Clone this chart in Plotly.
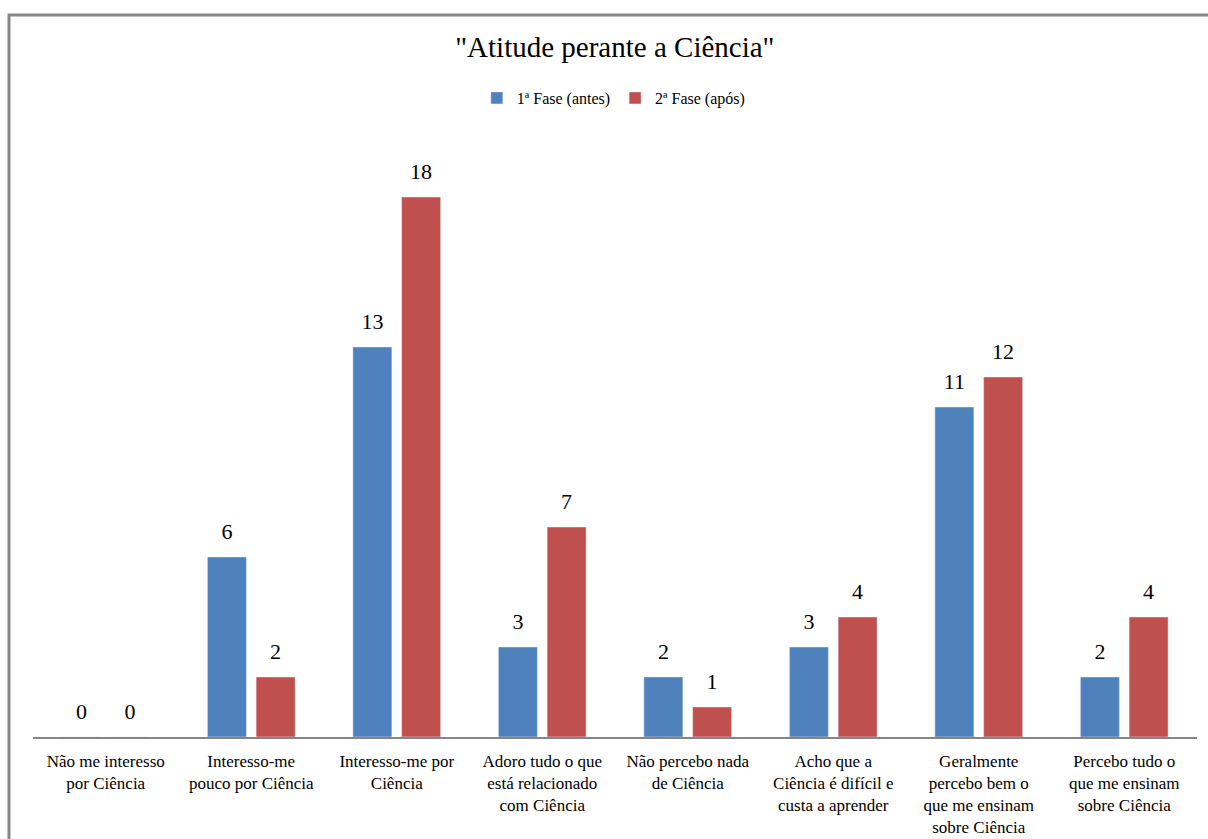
import plotly.graph_objects as go

categories = [
    "Não me interesso<br>por Ciência",
    "Interesso-me<br>pouco por Ciência",
    "Interesso-me por<br>Ciência",
    "Adoro tudo o que<br>está relacionado<br>com Ciência",
    "Não percebo nada<br>de Ciência",
    "Acho que a<br>Ciência é difícil e<br>custa a aprender",
    "Geralmente<br>percebo bem o<br>que me ensinam<br>sobre Ciência",
    "Percebo tudo o<br>que me ensinam<br>sobre Ciência",
]
fase1 = [0, 6, 13, 3, 2, 3, 11, 2]
fase2 = [0, 2, 18, 7, 1, 4, 12, 4]
series_names = ["1ª Fase (antes)", "2ª Fase (após)"]
colors = ["#4F81BD", "#C0504D"]
title_text = '"Atitude perante a Ciência"'

SERIF = "Liberation Serif"
W, H = 1208, 839
ml, mr, mt, mb = 33, 11, 137, 102

fig = go.Figure()
for i, (vals, name) in enumerate(zip([fase1, fase2], series_names)):
    fig.add_trace(go.Bar(x=categories, y=vals, name=name, marker_color=colors[i],
                         offsetgroup=str(i)))
for i, (vals, name) in enumerate(zip([fase1, fase2], series_names)):
    fig.add_trace(go.Scatter(x=categories, y=vals, mode="markers+text", text=vals,
                             textposition="top center", offsetgroup=str(i),
                             marker=dict(size=19, opacity=0), showlegend=False,
                             cliponaxis=False, hoverinfo="skip",
                             textfont=dict(family=SERIF, size=22, color="black")))

pw = W - ml - mr
ph = H - mt - mb
fig.add_shape(type="rect", xref="paper", yref="paper",
              x0=(9 - ml) / pw, x1=(W + 60 - ml) / pw,
              y0=-(H + 60 - mt - ph) / ph, y1=1 + (mt - 15) / ph,
              line=dict(color="#878787", width=3), fillcolor="rgba(0,0,0,0)", layer="below")

fig.update_layout(
    width=W, height=H,
    margin=dict(l=ml, r=mr, t=mt, b=mb, autoexpand=False),
    paper_bgcolor="white", plot_bgcolor="white",
    barmode="group", bargap=0.33, bargroupgap=0.2,
    scattermode="group", scattergap=0.33,
    title=dict(text=title_text, x=0.509, xanchor="center", y=1 - 47 / H, yanchor="middle",
               font=dict(family=SERIF, size=29, color="black")),
    legend=dict(orientation="h", x=0.499, xanchor="center", y=1 + (mt - 98) / ph, yanchor="middle",
                font=dict(family=SERIF, size=16, color="black"), itemwidth=30,
                traceorder="normal"),
    showlegend=True,
    font=dict(family=SERIF, color="black"),
)
fig.update_xaxes(showline=True, linecolor="#868686", linewidth=1.5, ticks="",
                 tickfont=dict(family=SERIF, size=17, color="black"), tickangle=0,
                 ticklabelstandoff=8, automargin=False,
                 showgrid=False, fixedrange=True)
fig.update_yaxes(range=[0, 20], visible=False, showgrid=False, zeroline=False)

fig.write_html("out.html")
